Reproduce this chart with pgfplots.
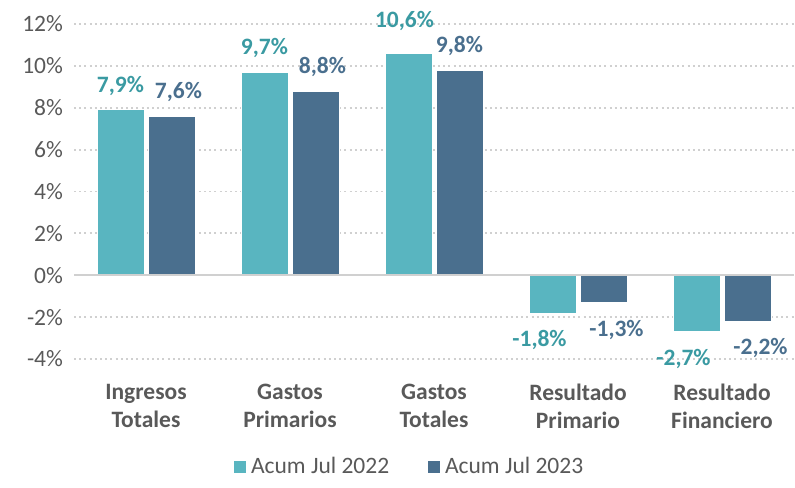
\documentclass[border=0pt]{standalone}
\usepackage{pgfplots}
\pgfplotsset{compat=1.18}
\usepackage{fontspec}
\setmainfont{Carlito}

\definecolor{teal22}{HTML}{59B5C0}
\definecolor{blue23}{HTML}{4A6F8E}
\definecolor{tealtxt}{HTML}{3A9AA2}
\definecolor{txtgray}{HTML}{595959}
\definecolor{gridgray}{HTML}{D0D0D0}

\newcommand{\chartfont}{\fontsize{11.75}{14}\selectfont}

\begin{document}
\begin{tikzpicture}
% fix the page to the reference proportions (1px = 0.5pt)
\path[use as bounding box] (-37pt,-64pt) rectangle (360.5pt,179.5pt);
\begin{axis}[
    at={(0,0)}, anchor=south west,
    scale only axis,
    width=360pt, height=167.5pt,
    xmin=-0.5, xmax=4.5,
    ymin=-4, ymax=12,
    ybar=2pt,
    bar width=23.5pt,
    axis line style={draw=none},
    major tick length=0pt,
    xtick={0,...,4},
    xticklabels={{Ingresos\\Totales},{Gastos\\Primarios},{Gastos\\Totales},{Resultado\\Primario},{Resultado\\Financiero}},
    xticklabel style={align=center, font=\chartfont\bfseries, text=txtgray, yshift=-9pt},
    ytick={-4,-2,...,12},
    yticklabel={\pgfmathprintnumber{\tick}\%},
    yticklabel style={font=\chartfont, text=txtgray, xshift=-2pt},
    /pgf/number format/assume math mode=true,
    ymajorgrids,
    major grid style={gridgray, line width=0.9pt, dash pattern=on 1pt off 1.6pt},
    nodes near coords={\pgfmathprintnumber[fixed,fixed zerofill,precision=1,use comma]{\pgfplotspointmeta}\%},
    nodes near coords align={vertical},
    every node near coord/.append style={font=\chartfont\bfseries, inner ysep=7pt},
    legend style={at={(0.467,-0.322)}, anchor=center, draw=none, fill=none,
        legend columns=2, font=\chartfont, text=txtgray,
        /tikz/every even column/.append style={column sep=17pt}},
    legend image code/.code={\fill[#1] (0pt,-3.2pt) rectangle (6.5pt,3.3pt);},
]

% Acum Jul 2022
\addplot[fill=teal22, draw=white, line width=0.4pt,
    every node near coord/.append style={text=tealtxt},
    coordinate style/.condition={y<0}{xshift=-6.5pt, yshift=-1.5pt},
    coordinate style/.condition={y>10}{xshift=-2pt, yshift=4pt}] coordinates {
    (0,7.9) (1,9.7) (2,10.6) (3,-1.8) (4,-2.7)
};

% Acum Jul 2023
\addplot[fill=blue23, draw=white, line width=0.4pt,
    every node near coord/.append style={text=blue23},
    coordinate style/.condition={y<0}{xshift=6.5pt, yshift=-1.5pt},
    coordinate style/.condition={y>0 && y<9.5}{xshift=3.5pt}] coordinates {
    (0,7.6) (1,8.8) (2,9.8) (3,-1.3) (4,-2.2)
};

\legend{Acum Jul 2022, Acum Jul 2023}

\draw[gridgray, line width=1pt] (axis cs:-0.5,0) -- (axis cs:4.5,0);

\end{axis}
\end{tikzpicture}
\end{document}
